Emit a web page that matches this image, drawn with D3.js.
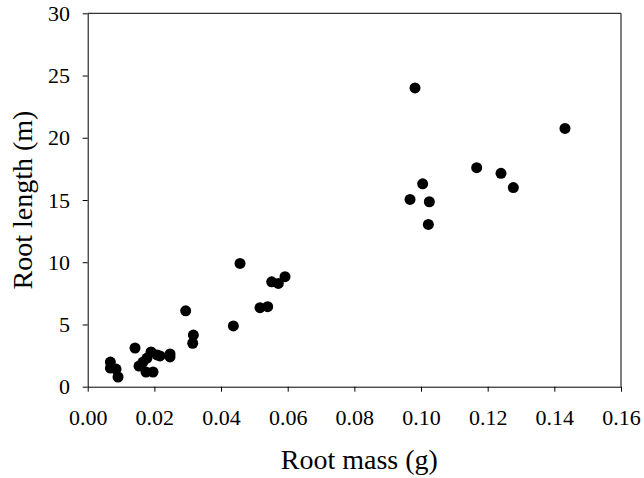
<!DOCTYPE html>
<html>
<head>
<meta charset="utf-8">
<script src="https://cdn.jsdelivr.net/npm/d3@7"></script>
<style>
  body { margin: 0; background: #fff; }
  svg text { font-family: "Liberation Serif", "Times New Roman", serif; fill: #000; }
</style>
</head>
<body>
<svg></svg>
<script>
const w = 644
const h = 478

// data
const rootMass = [
  0.0068, 0.0068, 0.0085, 0.0091, 0.0142, 0.0154, 0.0166, 0.0175, 0.0178, 0.0190,
  0.0196, 0.0208, 0.0217, 0.0247, 0.0247,
  0.0294, 0.0317, 0.0315, 0.0437, 0.0457, 0.0517, 0.0540, 0.0552, 0.0572, 0.0592,
  0.0967, 0.0982, 0.1005, 0.1025, 0.1022, 0.1167, 0.1240, 0.1277, 0.1432
]
const rootLength = [
  1.98, 1.50, 1.42, 0.78, 3.11, 1.66, 1.98, 1.18, 2.30, 2.79,
  1.18, 2.55, 2.47, 2.63, 2.39,
  6.10, 4.15, 3.49, 4.88, 9.90, 6.35, 6.43, 8.43, 8.30, 8.84,
  15.05, 24.0, 16.3, 14.86, 13.04, 17.6, 17.14, 16.0, 20.75
]
const xTicks = [0, 0.02, 0.04, 0.06, 0.08, 0.10, 0.12, 0.14, 0.16]
const yTicks = [0, 5, 10, 15, 20, 25, 30]

const data = rootMass.map((m, i) => ({ mass: m, length: rootLength[i] }))

const serif = '"Liberation Serif", "Times New Roman", serif'

const svg = d3.select('svg')
  .attr('width', w)
  .attr('height', h);

const margin = { top: 13.3, right: 23, bottom: 91.3, left: 87.7 };
const innerWidth = w - margin.left - margin.right;
const innerHeight = h - margin.top - margin.bottom;

const xScale = d3.scaleLinear()
  .domain([0, 0.16])
  .range([0, innerWidth])

const yScale = d3.scaleLinear()
  .domain([0, 30])
  .range([innerHeight, 0]) // flip y

const g = svg.append('g')
  .attr('transform', `translate(${margin.left}, ${margin.top})`);

// frame (top + right)
g.append('path')
  .attr('d', `M0,0H${innerWidth}V${innerHeight}`)
  .attr('fill', 'none')
  .attr('stroke', '#000')

const xAxis = d3.axisBottom(xScale)
  .tickValues(xTicks)
  .tickFormat(d3.format('.2f'))
  .tickSizeInner(5)
  .tickSizeOuter(0)
  .tickPadding(18)

const yAxis = d3.axisLeft(yScale)
  .tickValues(yTicks)
  .tickFormat(d3.format('d'))
  .tickSizeInner(5)
  .tickSizeOuter(0)
  .tickPadding(12.7)

const xAxisG = g.append('g').call(xAxis)
  .attr('transform', `translate(0, ${innerHeight})`)
const yAxisG = g.append('g').call(yAxis)

xAxisG.attr('font-family', serif).attr('font-size', 22)
yAxisG.attr('font-family', serif).attr('font-size', 22)
g.selectAll('.tick text')
  .style('font-family', serif)
  .style('font-size', '22px')
g.selectAll('.domain, .tick line')
  .attr('stroke', '#000')

xAxisG.append('text')
  .attr('x', innerWidth / 2 + 5)
  .attr('y', 82)
  .attr('text-anchor', 'middle')
  .style('font-family', serif)
  .style('font-size', '28px')
  .text('Root mass (g)');

yAxisG.append('text')
  .attr('transform', 'rotate(-90)')
  .attr('x', -(200 - margin.top))
  .attr('y', -56)
  .attr('text-anchor', 'middle')
  .style('font-family', serif)
  .style('font-size', '28px')
  .text('Root length (m)');

g.selectAll('circle').data(data)
  .enter().append('circle')
  .attr('cx', d => xScale(d.mass))
  .attr('cy', d => yScale(d.length))
  .attr('r', 5.5)
  .attr('fill', '#000')
</script>
</body>
</html>
